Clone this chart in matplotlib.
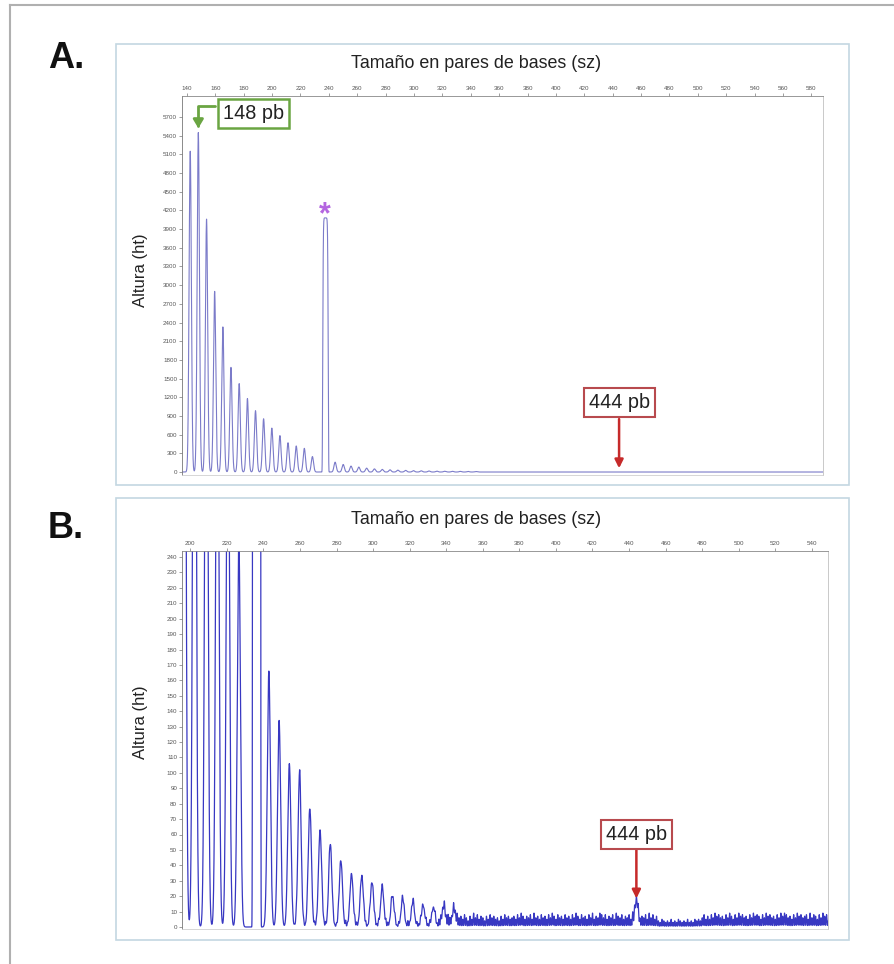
import numpy as np
import matplotlib.pyplot as plt
from matplotlib.patches import Rectangle
from matplotlib.lines import Line2D

plt.rcParams['font.family'] = ['Liberation Sans', 'DejaVu Sans']

# ---- Panel A: ladder peaks (bp, height)
peaks_a_bp = [142.3, 148.0, 153.8, 159.5, 165.3, 171.0, 176.8, 182.6, 188.3, 194.0,
              199.8, 205.5, 211.2, 217.0, 222.7, 228.4,
              244.4, 250.1, 255.6, 261.1, 266.6, 272.1, 277.6, 283.1, 288.6, 294.1,
              299.6, 305.1, 310.6, 316.1, 321.6, 327.1, 332.6, 338.1, 343.6]
peaks_a_ht = [5150, 5450, 4060, 2900, 2330, 1680, 1420, 1180, 985, 855,
              705, 585, 470, 418, 380, 248,
              158, 121, 95, 79, 62, 50, 42, 35, 30, 26,
              22, 19, 16, 14, 12, 11, 10, 9, 8]
control_a = (237.6, 4080)

# ---- Panel B: same run, zoomed on the low signal
peaks_b_bp = [196.6, 202.3, 208.8, 214.8, 220.6, 226.6,
              243.0, 248.6, 254.2, 259.8, 265.4, 271.0, 276.6, 282.4, 288.2, 293.8,
              299.4, 305.0, 310.6, 316.2, 321.8, 327.4, 333.0, 338.6, 344.2, 444.0]
peaks_b_ht = [710, 590, 470, 420, 380, 250,
              166, 134, 106, 99, 76, 62, 53, 42, 34, 32,
              28, 25, 19, 17, 15, 13, 12, 11, 9, 14]
control_b = (236.3, 4080)
# background noise spikes, one digit per bp starting at 256 bp
noise_b_start = 256
noise_b = ("2132423132413231423142312432142312431324"
           "3142342413243142413243142341324314243142"
           "5647586475867586475968576475867564758675"
           "6758697576859675867586975867586758697586"
           "7586957698685768597685768597685768596857"
           "4354343534354343534354546857586978675869"
           "7586978675869787586978675869798675869786"
           "7859687586978675869798675869786758697867"
           "6758697865")

xticks_a = list(range(140, 581, 20))
yticks_a = list(range(0, 5701, 300))
xticks_b = list(range(200, 541, 20))
yticks_b = list(range(0, 241, 10))


def trace(x, pos, ht, control, sigma=0.8):
    y = np.zeros_like(x)
    for p, h in zip(pos, ht):
        y += h * np.exp(-0.5 * ((x - p) / sigma) ** 2)
    c, h = control
    y += h * np.exp(-((x - c) / 2.0) ** 8)
    return y


W, H = 894, 964
fig = plt.figure(figsize=(W / 100, H / 100), dpi=100)


def fx(px):
    return px / W


def fy(py):
    return 1 - py / H


# outer frame (left and top)
fig.add_artist(Line2D([fx(10), fx(10)], [fy(5), 0], color='#b0b0b0', lw=1.5))
fig.add_artist(Line2D([fx(10), 1], [fy(5), fy(5)], color='#b0b0b0', lw=1.5))

# panel boxes
for x0, y0, x1, y1 in [(116, 44, 849, 485), (116, 498, 849, 940)]:
    fig.add_artist(Rectangle((fx(x0), fy(y1)), (x1 - x0) / W, (y1 - y0) / H,
                             fill=False, ec='#c4d7e1', lw=1.2))

ax_a = fig.add_axes([fx(182), fy(474.5), (823 - 182) / W, (474.5 - 96) / H])
ax_b = fig.add_axes([fx(182), fy(929), (828 - 182) / W, (929 - 551) / H])

xa = np.arange(136.5, 588.2, 0.02)
ya = trace(xa, peaks_a_bp, peaks_a_ht, control_a)
ax_a.plot(xa, ya, color='#7b7bc9', lw=0.8)

xb = np.arange(195.5, 548.8, 0.02)
yb = trace(xb, peaks_b_bp, peaks_b_ht, control_b, sigma=0.85)
for i, ch in enumerate(noise_b):
    yb += int(ch) * np.exp(-0.5 * ((xb - (noise_b_start + i)) / 0.22) ** 2)
ax_b.plot(xb, yb, color='#3838c2', lw=0.9)

for ax, xt, yt, xl, yl in [(ax_a, xticks_a, yticks_a, (136.5, 588.2), (-40, 6037)),
                           (ax_b, xticks_b, yticks_b, (195.5, 548.8), (-1.3, 243.9))]:
    ax.set_xlim(*xl)
    ax.set_ylim(*yl)
    ax.set_xticks(xt)
    ax.set_yticks(yt)
    ax.xaxis.tick_top()
    ax.tick_params(axis='both', labelsize=4.5, labelcolor='#555555', colors='#777777',
                   length=2, width=0.5, pad=1.5)
    ax.tick_params(axis='x', colors='#777777', labelcolor='#555555')
    ax.spines['top'].set_linestyle((0, (2, 1)))
    ax.spines['top'].set_color('#888888')
    ax.spines['left'].set_color('#777777')
    ax.spines['right'].set_color('#c0c0c0')
    ax.spines['bottom'].set_color('#d0d0d0')
    for s in ax.spines.values():
        s.set_linewidth(0.6)

# titles, axis labels, panel letters
for ytitle, ylab, yletter, letter in [(64, 270, 59, 'A.'), (520, 722, 529, 'B.')]:
    fig.text(fx(476), fy(ytitle), 'Tamaño en pares de bases (sz)', fontsize=12.9,
             ha='center', va='center', color='#222222')
    fig.text(fx(141), fy(ylab), 'Altura (ht)', fontsize=12, rotation=90,
             ha='center', va='center', color='#222222')
    fig.text(fx(48), fy(yletter), letter, fontsize=26, weight='bold',
             ha='left', va='center', color='#111111')

green = '#6aa542'
red = '#c62a2a'
box_pad = 'square,pad=0.25'

# 148 pb callout with elbow arrow
ax_a.text(186.6, 5760, '148 pb', fontsize=14.3, ha='center', va='center', color='#222222',
          bbox=dict(boxstyle=box_pad, fc='white', ec=green, lw=1.8))
ax_a.annotate('', xy=(148.0, 5520), xytext=(160.0, 5880),
              arrowprops=dict(arrowstyle='-|>,head_length=0.5,head_width=0.3', color=green, lw=2,
                              connectionstyle='angle,angleA=0,angleB=90,rad=0',
                              shrinkA=0, shrinkB=0))

# control peak asterisk
ax_a.text(237.3, 4130, '*', fontsize=22, weight='bold', color='#b466e0',
          ha='center', va='center')

# 444 pb callouts
ax_a.annotate('', xy=(444.5, 60), xytext=(444.5, 850),
              arrowprops=dict(arrowstyle='-|>,head_length=0.5,head_width=0.25', color=red, lw=1.8,
                              shrinkA=0, shrinkB=0))
ax_a.text(444.5, 1110, '444 pb', fontsize=14.3, ha='center', va='center', color='#222222',
          bbox=dict(boxstyle=box_pad, fc='white', ec='#b84a4e', lw=1.5))

ax_b.annotate('', xy=(444, 18.5), xytext=(444, 50),
              arrowprops=dict(arrowstyle='-|>,head_length=0.5,head_width=0.25', color=red, lw=1.8,
                              shrinkA=0, shrinkB=0))
ax_b.text(444, 60, '444 pb', fontsize=14.3, ha='center', va='center', color='#222222',
          bbox=dict(boxstyle=box_pad, fc='white', ec='#b84a4e', lw=1.5))

fig.savefig('out.png', dpi=100)
